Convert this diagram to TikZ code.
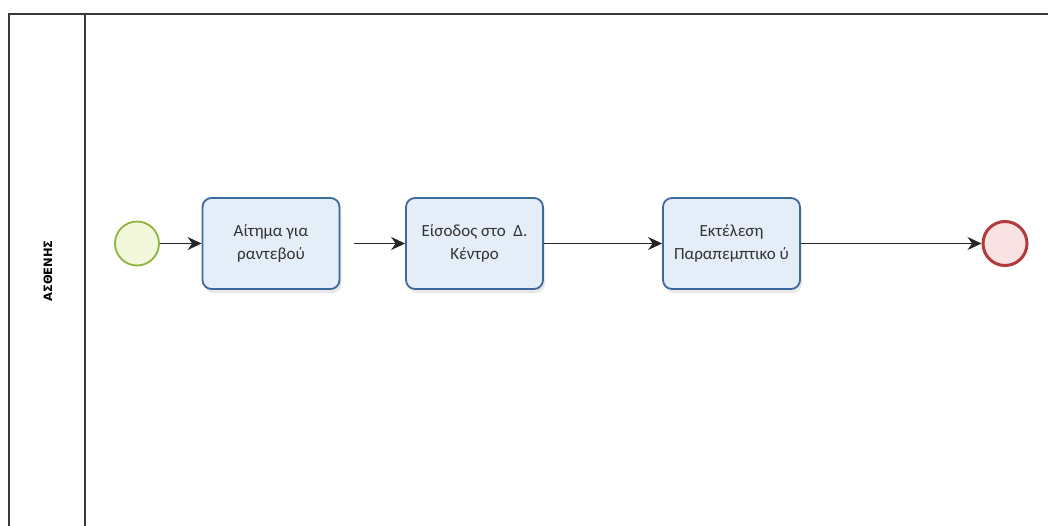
\documentclass[tikz,border=0pt]{standalone}
\usepackage{fontspec}
\setmainfont{Carlito}
\newfontfamily\lanefont{DejaVu Sans}
\usetikzlibrary{arrows.meta,shadows}
\definecolor{taskfill}{HTML}{E4EEF8}
\definecolor{taskline}{HTML}{3D6A9C}
\definecolor{startfill}{HTML}{F3F7DC}
\definecolor{startline}{HTML}{8FB43E}
\definecolor{endfill}{HTML}{F8E2E2}
\definecolor{endline}{HTML}{B23A3A}
\definecolor{poolline}{HTML}{3A3A3E}
\begin{document}
\begin{tikzpicture}[x=1pt,y=-1pt,
  task/.style={draw=taskline,line width=1.8pt,fill=taskfill,rounded corners=9pt,
    minimum width=137pt,minimum height=91pt,align=center,font=\fontsize{17}{23}\selectfont,
    text=black!80,drop shadow={shadow xshift=2pt,shadow yshift=-4pt,opacity=0.18}},
  startev/.style={circle,draw=startline,line width=1.8pt,fill=startfill,minimum size=44pt,inner sep=0pt},
  endev/.style={circle,draw=endline,line width=3pt,fill=endfill,minimum size=44pt,inner sep=0pt},
  flow/.style={-{Stealth[length=14pt,width=13pt]},line width=1.6pt,draw=black!85}]
\useasboundingbox (0,0) rectangle (1048,526);
% pool frame
\draw[poolline,line width=1.6pt] (9,526) -- (9,14) -- (1048,14);
\draw[poolline,line width=1.4pt] (85,14) -- (85,526);
\node[rotate=90,font=\lanefont\bfseries\fontsize{11.5}{13}\selectfont] (lane) at (48,271) {ΑΣΘΕΝΗΣ};
% events and tasks
\node[startev] (start) at (137,243.5) {};
\node[task] (t1) at (271,243.5) {Αίτημα για\\ραντεβού};
\node[task] (t2) at (474.5,243.5) {Είσοδος στο~ Δ.\\Κέντρο};
\node[task] (t3) at (731.5,243.5) {Εκτέλεση\\Παραπεμπτικο ύ};
\node[endev] (end) at (1005,243.5) {};
% sequence flows
\draw[flow] (start) -- (t1);
\draw[flow] ([xshift=14pt]t1.east) -- (t2.west);
\draw[flow] (t2.east) -- (t3.west);
\draw[flow] (t3.east) -- (end);
\end{tikzpicture}
\end{document}
